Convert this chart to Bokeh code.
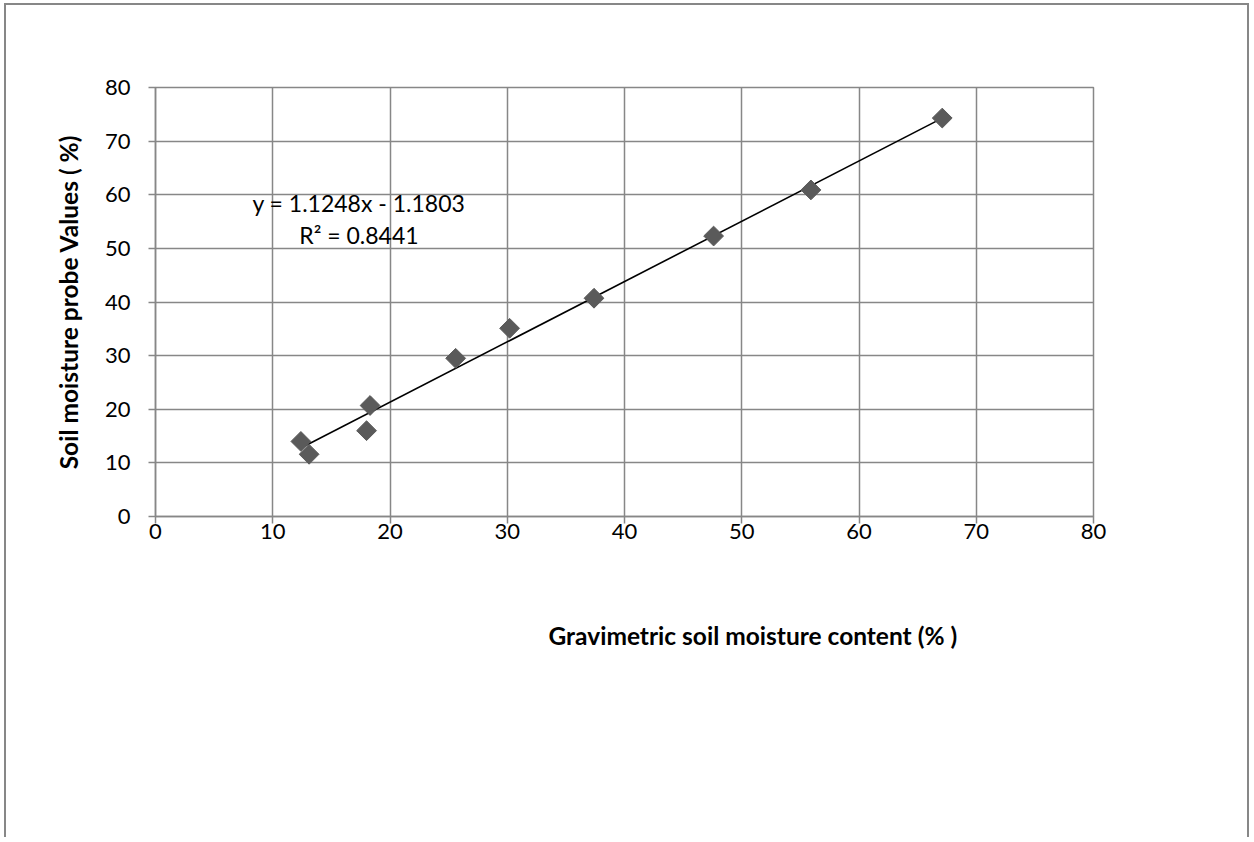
from bokeh.plotting import figure
from bokeh.models import Label, FixedTicker, ColumnDataSource, Title
from bokeh.embed import file_html
from bokeh.resources import INLINE
import math

# data
gravimetric = [12.4, 13.1, 18.0, 18.3, 25.6, 30.2, 37.4, 47.6, 55.9, 67.1]
probe = [14.0, 11.6, 16.0, 20.7, 29.5, 35.1, 40.7, 52.3, 60.9, 74.3]
slope = 1.1248
intercept = -1.1803
r2 = 0.8441
x_ticks = [0, 10, 20, 30, 40, 50, 60, 70, 80]
y_ticks = [0, 10, 20, 30, 40, 50, 60, 70, 80]

FONT = "Lato"
GRID = "#878787"

p = figure(width=1245, height=834, x_range=(0, 80), y_range=(0, 80),
           output_backend="svg", toolbar_location=None,
           min_border_left=149, min_border_right=158, min_border_top=82, min_border_bottom=323)
p.styles = {"border-left": "2px solid #878787", "border-top": "2px solid #878787",
            "border-right": "2px solid #878787", "margin-left": "4px", "margin-top": "3px"}
p.outline_line_color = GRID
p.outline_line_width = 1.5
p.background_fill_color = "white"
p.border_fill_color = "white"

for ax in (p.xaxis[0], p.yaxis[0]):
    ax.axis_line_color = GRID
    ax.axis_line_width = 1.5
    ax.major_tick_line_color = GRID
    ax.major_tick_line_width = 1.5
    ax.major_tick_out = 7
    ax.major_tick_in = 0
    ax.minor_tick_line_color = None
    ax.major_label_text_font = FONT
    ax.major_label_text_font_size = "22px"
    ax.major_label_text_color = "black"
p.xaxis.ticker = FixedTicker(ticks=x_ticks)
p.yaxis.ticker = FixedTicker(ticks=y_ticks)
p.xaxis.major_label_standoff = 0
p.yaxis.major_label_standoff = 18

p.yaxis.axis_label = "Soil moisture probe Values ( %)"
p.yaxis.axis_label_text_font = FONT
p.yaxis.axis_label_text_font_style = "bold"
p.yaxis.axis_label_text_font_size = "24.5px"
p.yaxis.axis_label_text_color = "black"
p.yaxis.axis_label_standoff = 19

for g in (p.xgrid[0], p.ygrid[0]):
    g.grid_line_color = GRID
    g.grid_line_width = 1.5
p.xgrid.ticker = FixedTicker(ticks=x_ticks)
p.ygrid.ticker = FixedTicker(ticks=y_ticks)

# trendline
x0, x1 = min(gravimetric), max(gravimetric)
p.line([x0, x1], [slope * x0 + intercept, slope * x1 + intercept], line_color="black", line_width=1.6)

src = ColumnDataSource(dict(x=gravimetric, y=probe))
p.scatter("x", "y", source=src, marker="square", size=14, angle=math.pi / 4,
          fill_color="#5a5a5a", line_color="#5a5a5a")

p.add_layout(Label(x=17.35, y=58.4, text=f"y = {slope}x - {abs(intercept)}",
                   text_font=FONT, text_font_size="23px", text_align="center",
                   text_baseline="middle", text_color="black"))
p.add_layout(Label(x=17.35, y=52.5, text=f"R² = {r2}",
                   text_font=FONT, text_font_size="23px", text_align="center",
                   text_baseline="middle", text_color="black"))

p.add_layout(Title(text="Gravimetric soil moisture content (% )", align="left", offset=393,
                   standoff=154, text_font=FONT, text_font_size="24.5px",
                   text_font_style="bold", text_color="black"), "below")

open("out.html", "w").write(file_html(p, INLINE))
